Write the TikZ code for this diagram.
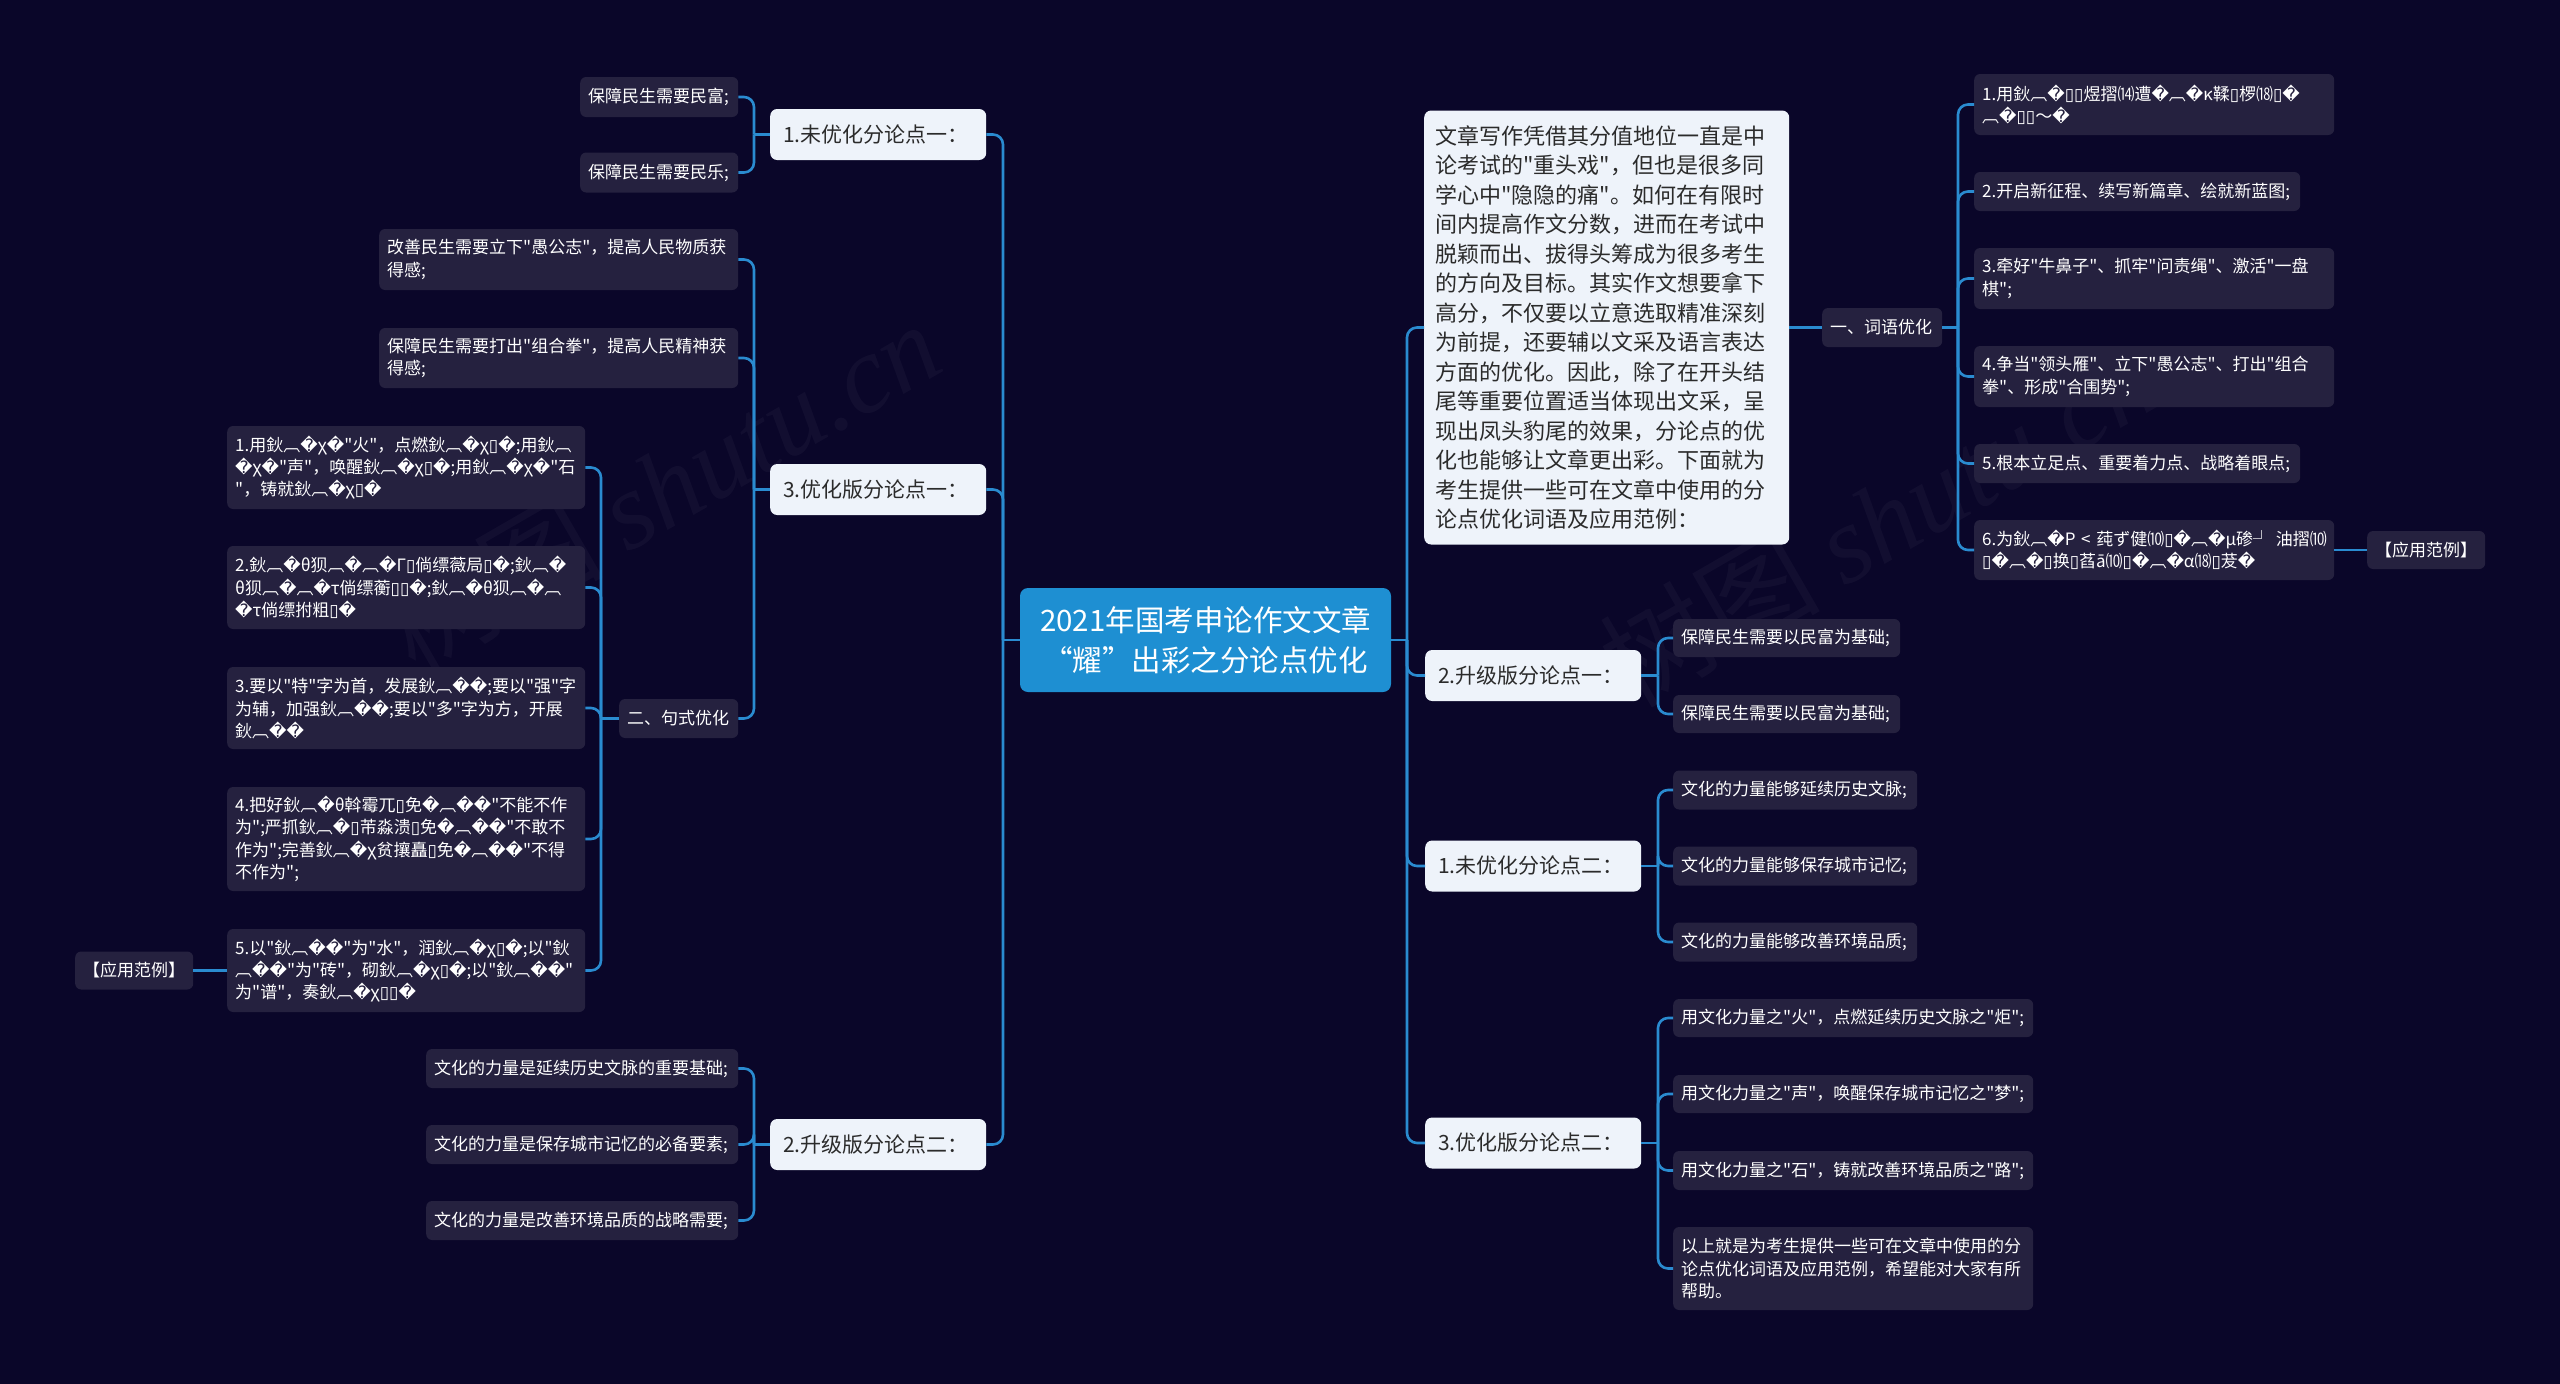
\documentclass[tikz,border=0pt]{standalone}
\usepackage{fontspec}
\setmainfont{Noto Sans CJK SC}[Ligatures=TeXOff]
\newfontfamily\djv{DejaVu Sans}[Ligatures=TeXOff]
\newfontfamily\wmserif{Liberation Serif}
\newcommand\RC{{\djv\char"FFFD}}
\newcommand\BX{{\djv\char"25AF}}
\definecolor{bgc}{HTML}{0A0629}
\definecolor{leafc}{HTML}{25213F}
\definecolor{whitec}{HTML}{EEF3FA}
\definecolor{rootc}{HTML}{1E8FD2}
\definecolor{linec}{HTML}{2A8BD0}
\definecolor{darktext}{HTML}{2B2B2B}
\tikzset{
  leaf/.style={fill=leafc, text=white, rounded corners=6pt, inner xsep=8pt, inner ysep=0pt,
    align=left, anchor=west, font=\fontsize{17}{22.4}\selectfont},
  lvl/.style={fill=whitec, text=darktext, rounded corners=7pt, inner xsep=13pt, inner ysep=0pt,
    align=left, anchor=west, font=\fontsize{21}{26}\selectfont, minimum height=51pt, text width=190pt},
  rootbox/.style={fill=rootc, text=white, rounded corners=8pt, align=center,
    font=\fontsize{29.5}{40}\selectfont, minimum width=371pt, minimum height=104pt, inner sep=0pt},
  conn/.style={draw=linec, line width=2.6pt, rounded corners=10pt},
  wmark/.style={text=white, opacity=0.035, rotate=30, font=\fontsize{110}{110}\selectfont}
}
\begin{document}
\begin{tikzpicture}[x=1pt, y=-1pt]
\fill[bgc] (0,0) rectangle (2560,1384);
\useasboundingbox (0,0) rectangle (2560,1384);

% watermarks
\node[wmark] (wm1) at (661,486) {树图 {\wmserif\itshape shutu.cn}};
\node[wmark] (wm2) at (1878,520) {树图 {\wmserif\itshape shutu.cn}};

% root
\node[rootbox] (root) at (1205.5,640) {2021年国考申论作文文章\\“耀”出彩之分论点优化};

% ---------- left side ----------
\node[lvl] (L1) at (770,134.5) {1.未优化分论点一：};
\node[lvl] (L2) at (770,489.5) {3.优化版分论点一：};
\node[lvl] (L3) at (770,1144.5) {2.升级版分论点二：};

\node[leaf, text width=142pt, minimum height=40pt] (A1) at (580,97) {保障民生需要民富;};
\node[leaf, text width=142pt, minimum height=40pt] (A2) at (580,172.5) {保障民生需要民乐;};

\node[leaf, text width=343pt, minimum height=61pt] (B1) at (379,259.5) {改善民生需要立下"愚公志"，提高人民物质获\\得感;};
\node[leaf, text width=343pt, minimum height=60pt] (B2) at (379,358) {保障民生需要打出"组合拳"，提高人民精神获\\得感;};
\node[leaf, text width=103pt, minimum height=39pt] (B3) at (619,718.5) {二、句式优化};

\node[leaf, text width=342pt, minimum height=83pt] (C1) at (227,467.5) {1.用鈥︹\RC{}χ\RC{}"火"，点燃鈥︹\RC{}χ\BX{}\RC{};用鈥︹\\\RC{}χ\RC{}"声"，唤醒鈥︹\RC{}χ\BX{}\RC{};用鈥︹\RC{}χ\RC{}"石\\"，铸就鈥︹\RC{}χ\BX{}\RC{}};
\node[leaf, text width=342pt, minimum height=83pt] (C2) at (227,587.5) {2.鈥︹\RC{}θ狈︹\RC{}︹\RC{}Γ\BX{}倘缥薇局\BX{}\RC{};鈥︹\RC{}\\θ狈︹\RC{}︹\RC{}τ倘缥蘅\BX{}\BX{}\RC{};鈥︹\RC{}θ狈︹\RC{}︹\\\RC{}τ倘缥拊粗\BX{}\RC{}};
\node[leaf, text width=342pt, minimum height=82pt] (C3) at (227,708) {3.要以"特"字为首，发展鈥︹\RC{}\RC{};要以"强"字\\为辅，加强鈥︹\RC{}\RC{};要以"多"字为方，开展\\鈥︹\RC{}\RC{}};
\node[leaf, text width=342pt, minimum height=104pt] (C4) at (227,839) {4.把好鈥︹\RC{}θ斡霉兀\BX{}免\RC{}︹\RC{}\RC{}"不能不作\\为";严抓鈥︹\RC{}\BX{}芾淼溃\BX{}免\RC{}︹\RC{}\RC{}"不敢不\\作为";完善鈥︹\RC{}χ贫攘矗\BX{}免\RC{}︹\RC{}\RC{}"不得\\不作为";};
\node[leaf, text width=342pt, minimum height=83pt] (C5) at (227,970.5) {5.以"鈥︹\RC{}\RC{}"为"水"，润鈥︹\RC{}χ\BX{}\RC{};以"鈥\\︹\RC{}\RC{}"为"砖"，砌鈥︹\RC{}χ\BX{}\RC{};以"鈥︹\RC{}\RC{}"\\为"谱"，奏鈥︹\RC{}χ\BX{}\BX{}\RC{}};
\node[leaf, text width=102pt, minimum height=38pt] (CX) at (75,970.5) {【应用范例】};

\node[leaf, text width=296pt, minimum height=39pt] (D1) at (426,1068.5) {文化的力量是延续历史文脉的重要基础;};
\node[leaf, text width=296pt, minimum height=39pt] (D2) at (426,1144.5) {文化的力量是保存城市记忆的必备要素;};
\node[leaf, text width=296pt, minimum height=39pt] (D3) at (426,1220.5) {文化的力量是改善环境品质的战略需要;};

% ---------- right side ----------
\node[fill=whitec, text=darktext, rounded corners=7pt, inner xsep=11pt, inner ysep=0pt, align=left,
  anchor=west, text width=343pt, minimum height=434pt, font=\fontsize{22}{29.5}\selectfont] (R0) at (1424,327.5)
{文章写作凭借其分值地位一直是中\\论考试的"重头戏"，但也是很多同\\学心中"隐隐的痛"。如何在有限时\\间内提高作文分数，进而在考试中\\脱颖而出、拔得头筹成为很多考生\\的方向及目标。其实作文想要拿下\\高分，不仅要以立意选取精准深刻\\为前提，还要辅以文采及语言表达\\方面的优化。因此，除了在开头结\\尾等重要位置适当体现出文采，呈\\现出凤头豹尾的效果，分论点的优\\化也能够让文章更出彩。下面就为\\考生提供一些可在文章中使用的分\\论点优化词语及应用范例：};

\node[leaf, text width=104pt, minimum height=39pt] (W) at (1822,327.5) {一、词语优化};
\node[leaf, text width=344pt, minimum height=61pt] (W1) at (1974,104.5) {1.用鈥︹\RC{}\BX{}\BX{}煜摺⒁遭\RC{}︹\RC{}κ鞣\BX{}椤⒅\BX{}\RC{}\\︹\RC{}\BX{}\BX{}～\RC{}};
\node[leaf, text width=310pt, minimum height=39pt] (W2) at (1974,191.5) {2.开启新征程、续写新篇章、绘就新蓝图;};
\node[leaf, text width=344pt, minimum height=61pt] (W3) at (1974,278.5) {3.牵好"牛鼻子"、抓牢"问责绳"、激活"一盘\\棋";};
\node[leaf, text width=344pt, minimum height=61pt] (W4) at (1974,376.5) {4.争当"领头雁"、立下"愚公志"、打出"组合\\拳"、形成"合围势";};
\node[leaf, text width=310pt, minimum height=39pt] (W5) at (1974,463.5) {5.根本立足点、重要着力点、战略着眼点;};
\node[leaf, text width=344pt, minimum height=60pt] (W6) at (1974,550) {6.为鈥︹\RC{}P~<~莼ず健⑽\BX{}\RC{}︹\RC{}μ碜┘~油摺⑽\\\BX{}\RC{}︹\RC{}\BX{}换\BX{}萏ā⑽\BX{}\RC{}︹\RC{}α⒅\BX{}茇\RC{}};
\node[leaf, text width=102pt, minimum height=38pt] (WX) at (2367,550) {【应用范例】};

\node[lvl] (R1) at (1425,675.5) {2.升级版分论点一：};
\node[lvl] (R2) at (1425,866) {1.未优化分论点二：};
\node[lvl] (R3) at (1425,1143) {3.优化版分论点二：};

\node[leaf, text width=211pt, minimum height=38pt] (E1) at (1673,638) {保障民生需要以民富为基础;};
\node[leaf, text width=211pt, minimum height=38pt] (E2) at (1673,714) {保障民生需要以民富为基础;};

\node[leaf, text width=228pt, minimum height=39pt] (F1) at (1673,790) {文化的力量能够延续历史文脉;};
\node[leaf, text width=228pt, minimum height=39pt] (F2) at (1673,866) {文化的力量能够保存城市记忆;};
\node[leaf, text width=228pt, minimum height=39pt] (F3) at (1673,942) {文化的力量能够改善环境品质;};

\node[leaf, text width=344pt, minimum height=38pt] (G1) at (1673,1018) {用文化力量之"火"，点燃延续历史文脉之"炬";};
\node[leaf, text width=344pt, minimum height=38pt] (G2) at (1673,1094) {用文化力量之"声"，唤醒保存城市记忆之"梦";};
\node[leaf, text width=344pt, minimum height=39pt] (G3) at (1673,1170.5) {用文化力量之"石"，铸就改善环境品质之"路";};
\node[leaf, text width=344pt, minimum height=83pt] (G4) at (1673,1268.5) {以上就是为考生提供一些可在文章中使用的分\\论点优化词语及应用范例，希望能对大家有所\\帮助。};

% ---------- connectors ----------
\coordinate (jL) at (1003,640);
\coordinate (jR) at (1407,640);
\draw[conn] (root.west) -- (jL);
\draw[conn] (jL) |- (L1.east);
\draw[conn] (jL) |- (L2.east);
\draw[conn] (jL) |- (L3.east);
\draw[conn] (root.east) -- (jR);
\draw[conn] (jR) |- (R0.west);
\draw[conn] (jR) |- (R1.west);
\draw[conn] (jR) |- (R2.west);
\draw[conn] (jR) |- (R3.west);

\coordinate (j1) at (754,134.5);
\draw[conn] (L1.west) -- (j1);
\draw[conn] (j1) |- (A1.east);
\draw[conn] (j1) |- (A2.east);

\coordinate (j2) at (754,489.5);
\draw[conn] (L2.west) -- (j2);
\draw[conn] (j2) |- (B1.east);
\draw[conn] (j2) |- (B2.east);
\draw[conn] (j2) |- (B3.east);

\coordinate (j2b) at (601,718.5);
\draw[conn] (B3.west) -- (j2b);
\draw[conn] (j2b) |- (C1.east);
\draw[conn] (j2b) |- (C2.east);
\draw[conn] (j2b) |- (C3.east);
\draw[conn] (j2b) |- (C4.east);
\draw[conn] (j2b) |- (C5.east);
\draw[conn] (C5.west) -- (CX.east);

\coordinate (j3) at (754,1144.5);
\draw[conn] (L3.west) -- (j3);
\draw[conn] (j3) |- (D1.east);
\draw[conn] (j3) |- (D2.east);
\draw[conn] (j3) |- (D3.east);

\draw[conn] (R0.east) -- (W.west);
\coordinate (jW) at (1958,327.5);
\draw[conn] (W.east) -- (jW);
\draw[conn] (jW) |- (W1.west);
\draw[conn] (jW) |- (W2.west);
\draw[conn] (jW) |- (W3.west);
\draw[conn] (jW) |- (W4.west);
\draw[conn] (jW) |- (W5.west);
\draw[conn] (jW) |- (W6.west);
\draw[conn] (W6.east) -- (WX.west);

\coordinate (jR1) at (1658,675.5);
\draw[conn] (R1.east) -- (jR1);
\draw[conn] (jR1) |- (E1.west);
\draw[conn] (jR1) |- (E2.west);

\coordinate (jR2) at (1658,866);
\draw[conn] (R2.east) -- (jR2);
\draw[conn] (jR2) |- (F1.west);
\draw[conn] (jR2) |- (F2.west);
\draw[conn] (jR2) |- (F3.west);

\coordinate (jR3) at (1658,1143);
\draw[conn] (R3.east) -- (jR3);
\draw[conn] (jR3) |- (G1.west);
\draw[conn] (jR3) |- (G2.west);
\draw[conn] (jR3) |- (G3.west);
\draw[conn] (jR3) |- (G4.west);
\end{tikzpicture}
\end{document}
